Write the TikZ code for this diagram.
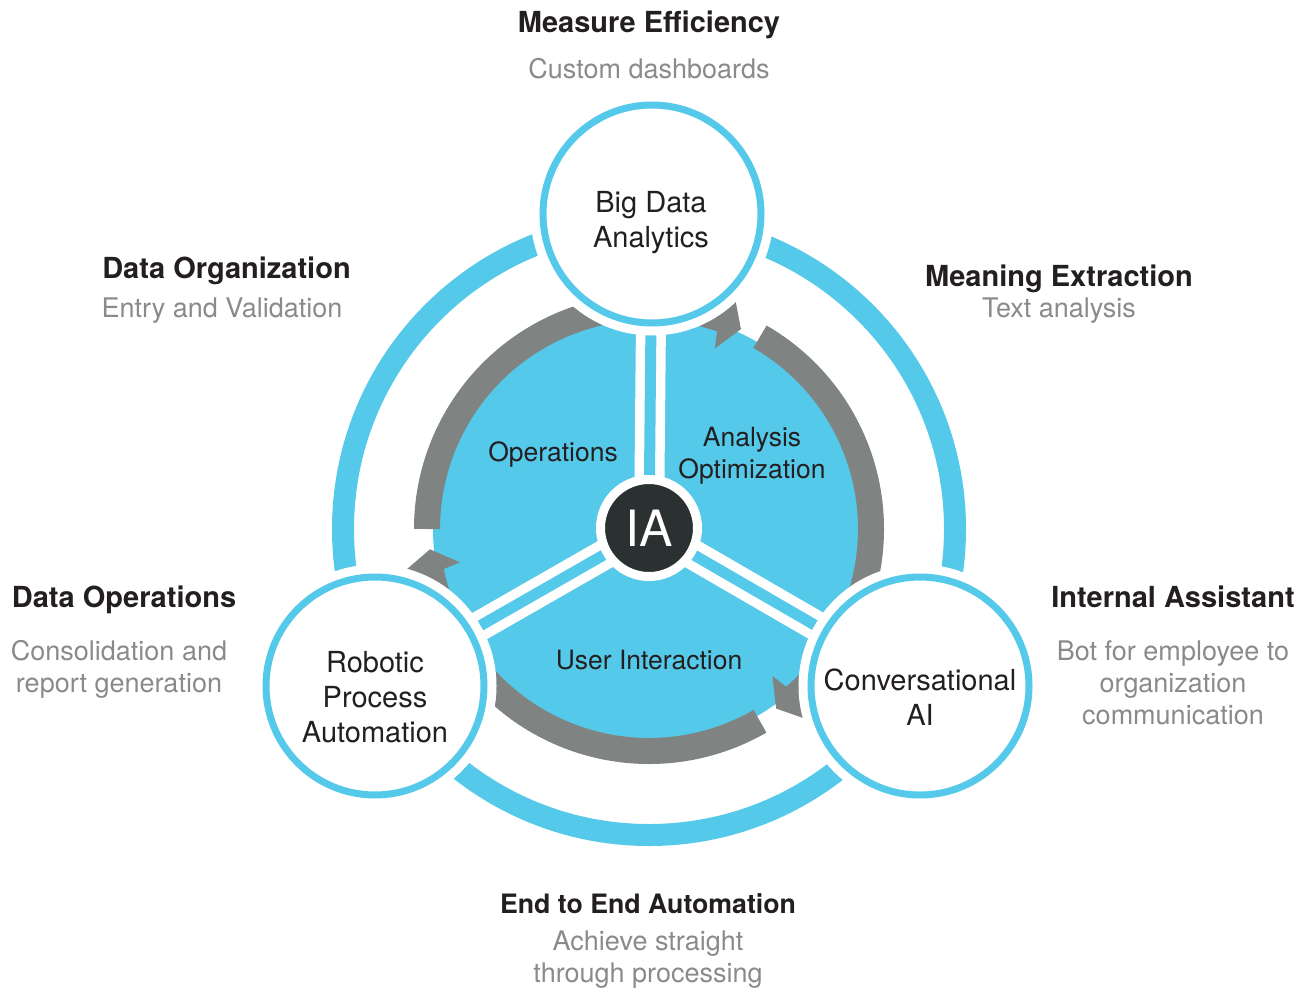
\documentclass[tikz,border=0pt]{standalone}
\usepackage{fontspec}
\setmainfont{TeX Gyre Heros}
\definecolor{cblue}{HTML}{55C9E9}
\definecolor{agray}{HTML}{7F8381}
\definecolor{tdark}{HTML}{231F20}
\definecolor{tgray}{HTML}{8A8A8A}
\definecolor{iadark}{HTML}{2B3031}
\begin{document}
\begin{tikzpicture}[x=1pt,y=1pt,
  title/.style={font=\fontsize{29}{34}\selectfont\bfseries, text=tdark, inner sep=0pt, anchor=base},
  sub/.style={font=\fontsize{27}{32}\selectfont, text=tgray, align=center, inner sep=0pt, anchor=base},
  ctext/.style={font=\fontsize{29}{35}\selectfont, text=tdark, align=center, inner sep=0pt, anchor=base},
  dtext/.style={font=\fontsize{26.5}{32}\selectfont, text=tdark, align=center, inner sep=0pt, anchor=base},
  bigcirc/.style={circle, draw=cblue, line width=7pt, fill=white, minimum size=218pt, inner sep=0pt},
  halo/.style={fill=white},
  spoke/.style={draw=white, line width=9.5pt, double=cblue, double distance=11pt},
  garc/.style={draw=agray, line width=26pt},
  ghead/.style={fill=agray},
  ia/.style={circle, fill=iadark, draw=white, line width=9pt, minimum size=97pt, inner sep=0pt}
]
\useasboundingbox (0,0) rectangle (1311,-990);
\coordinate (c) at (649,-529);
\coordinate (bdc) at (652,-214);
\coordinate (rpac) at (375,-686);
\coordinate (caic) at (920,-686);

% outer ring
\draw[cblue, line width=22pt] (c) circle (306);
% inner disc
\fill[cblue] (c) circle (216);
% gray arrows
\begin{scope}[shift={(c)}]
\foreach \s in {180,60,-60}{
  \draw[garc] (\s:222) arc[start angle=\s, end angle=\s-109.5, radius=222];
  \fill[ghead] ({\s-114.7}:220) -- ({\s-110.5}:246) -- ({\s-109}:235) -- ({\s-109}:209) -- ({\s-110}:192) -- cycle;
}
\end{scope}
% spokes
\draw[spoke] (c) -- (bdc);
\draw[spoke] (c) -- (rpac);
\draw[spoke] (c) -- (caic);
% halos
\fill[halo] (bdc) circle (121.5);
\fill[halo] (rpac) circle (121.5);
\fill[halo] (caic) circle (121.5);
% circles
\node[bigcirc] (bd) at (bdc) {};
\node[bigcirc] (rpa) at (rpac) {};
\node[bigcirc] (cai) at (caic) {};
\node[ia] (iac) at (649,-528) {};
\node[text=white, font=\fontsize{50}{50}\selectfont, inner sep=0pt, anchor=base] (ialbl) at (649,-546) {IA};

% circle texts (anchor base = last line)
\node[ctext] (bdt) at (651,-247) {Big Data\\Analytics};
\node[ctext] (rpat) at (375,-742) {Robotic\\Process\\Automation};
\node[ctext] (cait) at (920,-725) {Conversational\\AI};
% disc texts
\node[dtext] (opt) at (553,-461) {Operations};
\node[dtext] (ant) at (752,-478) {Analysis\\Optimization};
\node[dtext] (uit) at (649,-669) {User Interaction};

% outer texts
\node[title] (t1) at (649,-33) {Measure Efficiency};
\node[sub] (s1) at (649,-78) {Custom dashboards};
\node[title] (t2) at (226.5,-278) {Data Organization};
\node[sub] (s2) at (222,-317) {Entry and Validation};
\node[title] (t3) at (1059,-286) {Meaning Extraction};
\node[sub] (s3) at (1059,-317) {Text analysis};
\node[title] (t4) at (124,-607) {Data Operations};
\node[sub] (s4) at (119,-692) {Consolidation and\\report generation};
\node[title] (t5) at (1173,-607) {Internal Assistant};
\node[sub] (s5) at (1173,-724) {Bot for employee to\\organization\\communication};
\node[title, font=\fontsize{26.7}{32}\selectfont\bfseries] (t6) at (648,-913) {End to End Automation};
\node[sub] (s6) at (648,-982) {Achieve straight\\through processing};
\end{tikzpicture}
\end{document}
